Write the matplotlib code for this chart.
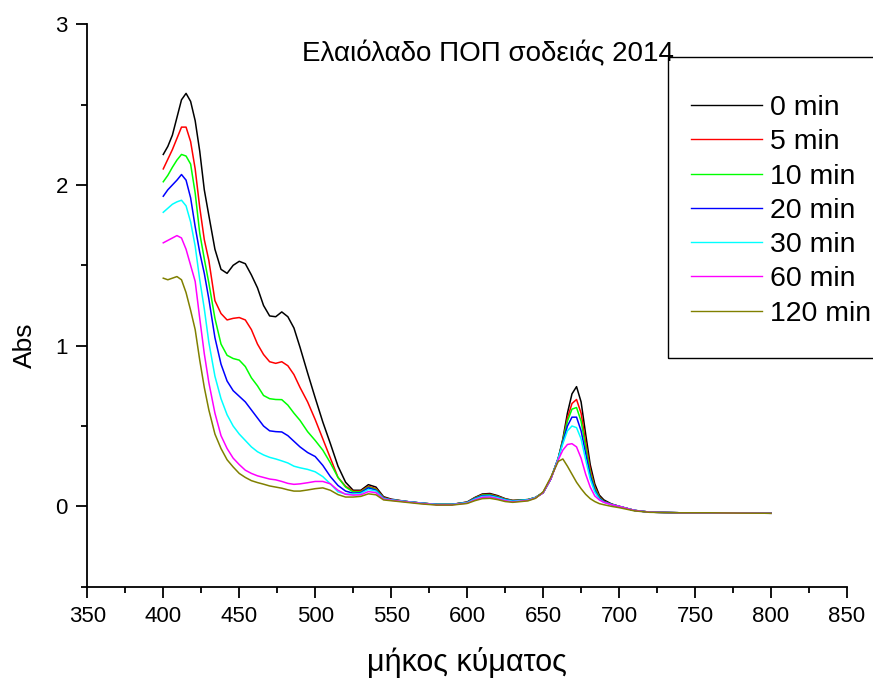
import matplotlib
matplotlib.use("Agg")
import matplotlib.pyplot as plt
from matplotlib.ticker import MultipleLocator
from matplotlib.patches import Rectangle

plt.rcParams['font.family'] = ['Liberation Sans', 'DejaVu Sans']

wavelength = [400,403,406,409,412,415,418,421,424,427,430,
              434,438,442,446,450,454,458,462,466,470,474,478,482,486,490,
              495,500,505,510,515,520,525,530,535,540,545,550,
              560,570,580,590,600,
              605,610,615,620,625,630,
              640,645,650,655,660,
              663,666,669,672,675,678,681,684,687,690,
              695,700,710,720,740,760,780,800]

abs_0 = [2.19,2.24,2.31,2.42,2.53,2.57,2.52,2.40,2.21,1.97,1.81,
         1.60,1.475,1.45,1.50,1.525,1.51,1.44,1.36,1.25,1.185,1.18,1.21,1.18,1.11,0.99,
         0.83,0.675,0.525,0.39,0.25,0.15,0.10,0.10,0.135,0.12,0.06,0.045,
         0.03,0.02,0.012,0.012,0.027,
         0.055,0.077,0.08,0.067,0.048,0.037,
         0.042,0.055,0.085,0.17,0.30,
         0.42,0.58,0.70,0.745,0.65,0.45,0.26,0.14,0.07,0.04,
         0.015,0.0,-0.025,-0.036,-0.04,-0.04,-0.042,-0.043]

abs_5 = [2.10,2.16,2.22,2.29,2.36,2.36,2.27,2.10,1.86,1.66,1.53,
         1.28,1.20,1.16,1.17,1.175,1.16,1.10,1.01,0.945,0.90,0.89,0.90,0.875,0.82,0.74,
         0.65,0.54,0.42,0.30,0.18,0.125,0.095,0.095,0.125,0.11,0.055,0.042,
         0.03,0.02,0.012,0.012,0.026,
         0.052,0.073,0.075,0.063,0.046,0.036,
         0.042,0.055,0.085,0.17,0.30,
         0.41,0.55,0.64,0.665,0.58,0.40,0.23,0.12,0.06,0.032,
         0.013,0.0,-0.025,-0.036,-0.04,-0.04,-0.042,-0.043]

abs_10 = [2.02,2.06,2.11,2.155,2.19,2.18,2.13,1.95,1.70,1.54,1.39,
          1.17,1.01,0.94,0.92,0.91,0.87,0.80,0.75,0.69,0.67,0.665,0.664,0.63,0.58,0.535,
          0.465,0.41,0.35,0.27,0.18,0.12,0.09,0.09,0.12,0.105,0.052,0.04,
          0.03,0.02,0.012,0.012,0.025,
          0.05,0.07,0.072,0.06,0.044,0.035,
          0.042,0.055,0.085,0.17,0.30,
          0.41,0.53,0.605,0.615,0.53,0.37,0.21,0.11,0.055,0.03,
          0.012,0.0,-0.025,-0.036,-0.04,-0.04,-0.042,-0.043]

abs_20 = [1.93,1.97,2.00,2.03,2.065,2.03,1.92,1.74,1.58,1.45,1.29,
          1.05,0.885,0.78,0.72,0.685,0.65,0.60,0.55,0.50,0.47,0.465,0.463,0.44,0.405,0.37,
          0.335,0.31,0.255,0.185,0.13,0.095,0.082,0.085,0.115,0.10,0.05,0.04,
          0.03,0.02,0.012,0.012,0.024,
          0.048,0.066,0.068,0.057,0.042,0.034,
          0.04,0.055,0.085,0.17,0.30,
          0.40,0.50,0.555,0.555,0.47,0.33,0.19,0.10,0.05,0.028,
          0.012,0.0,-0.025,-0.036,-0.04,-0.04,-0.042,-0.043]

abs_30 = [1.83,1.855,1.88,1.895,1.905,1.87,1.77,1.62,1.41,1.23,1.02,
          0.81,0.67,0.57,0.50,0.45,0.41,0.37,0.34,0.32,0.305,0.295,0.283,0.27,0.25,0.24,
          0.23,0.215,0.185,0.14,0.09,0.077,0.077,0.08,0.105,0.095,0.048,0.04,
          0.03,0.02,0.012,0.012,0.023,
          0.045,0.062,0.064,0.054,0.04,0.032,
          0.04,0.055,0.085,0.17,0.30,
          0.39,0.47,0.50,0.49,0.42,0.29,0.17,0.09,0.045,0.025,
          0.011,0.0,-0.025,-0.036,-0.04,-0.04,-0.042,-0.043]

abs_60 = [1.64,1.655,1.67,1.685,1.67,1.60,1.50,1.40,1.17,0.95,0.77,
          0.58,0.44,0.36,0.30,0.26,0.225,0.205,0.19,0.18,0.17,0.165,0.155,0.143,0.137,0.14,
          0.147,0.155,0.155,0.14,0.10,0.075,0.07,0.072,0.092,0.085,0.045,0.038,
          0.028,0.018,0.01,0.01,0.02,
          0.04,0.056,0.058,0.048,0.035,0.028,
          0.037,0.052,0.085,0.17,0.29,
          0.35,0.385,0.39,0.37,0.30,0.20,0.12,0.065,0.04,0.025,
          0.01,0.0,-0.025,-0.036,-0.04,-0.04,-0.042,-0.043]

abs_120 = [1.42,1.41,1.42,1.43,1.41,1.33,1.22,1.10,0.91,0.74,0.60,
           0.45,0.36,0.29,0.245,0.205,0.18,0.16,0.148,0.138,0.127,0.12,0.113,0.103,0.095,0.095,
           0.102,0.11,0.115,0.10,0.073,0.058,0.058,0.062,0.078,0.072,0.04,0.035,
           0.025,0.015,0.008,0.008,0.018,
           0.035,0.048,0.05,0.042,0.03,0.025,
           0.034,0.05,0.09,0.18,0.28,
           0.295,0.25,0.20,0.15,0.11,0.075,0.048,0.03,0.017,0.01,
           0.0,-0.008,-0.028,-0.037,-0.04,-0.04,-0.042,-0.043]

labels = ['0 min', '5 min', '10 min', '20 min', '30 min', '60 min', '120 min']
series = [abs_0, abs_5, abs_10, abs_20, abs_30, abs_60, abs_120]
colors = ['#000000', '#FF0000', '#00FF00', '#0000FF', '#00FFFF', '#FF00FF', '#808000']

title = 'Ελαιόλαδο ΠΟΠ σοδειάς 2014'
xlabel = 'μήκος κύματος'
ylabel = 'Abs'

fig = plt.figure(figsize=(8.73, 6.8), dpi=100)
ax = fig.add_axes([0.1, 0.1372, 0.8702, 0.8271])

for y, c, lab in zip(series, colors, labels):
    ax.plot(wavelength, y, color=c, lw=1.1, label=lab)

ax.set_xlim(350, 850)
ax.set_ylim(-0.5, 3)
ax.xaxis.set_major_locator(MultipleLocator(50))
ax.xaxis.set_minor_locator(MultipleLocator(25))
ax.yaxis.set_major_locator(MultipleLocator(1))
ax.yaxis.set_minor_locator(MultipleLocator(0.5))
for s in ['top', 'right']:
    ax.spines[s].set_visible(False)
for s in ['left', 'bottom']:
    ax.spines[s].set_linewidth(1.3)
ax.tick_params(which='major', direction='out', length=8, width=1.3, labelsize=16)
ax.tick_params(which='minor', direction='out', length=4.5, width=1.3)
ax.tick_params(axis='y', pad=6)
ax.tick_params(axis='x', pad=6)

fig.text(467/873, 1 - 662/680, xlabel, fontsize=22, ha='center', va='center')
fig.text(25/873, 1 - 345/680, ylabel, fontsize=19, ha='center', va='center', rotation=90)

fig.text(302/873, 1 - 61/680, title, fontsize=20, ha='left', va='baseline')

# legend frame
rect = Rectangle((668/873, 1 - 358/680), 0.3, (358 - 56.7)/680,
                 transform=fig.transFigure, fill=False, edgecolor='black',
                 lw=1.0, clip_on=False)
fig.add_artist(rect)

leg = ax.legend(loc='upper left', bbox_to_anchor=(691/873, 1 - 95/680),
                bbox_transform=fig.transFigure, frameon=False, fontsize=20.5,
                handlelength=2.49, handletextpad=0.28, labelspacing=0.29,
                borderpad=0, borderaxespad=0)
for h in leg.get_lines():
    h.set_linewidth(1.0)

fig.savefig('out.png', dpi=100)
